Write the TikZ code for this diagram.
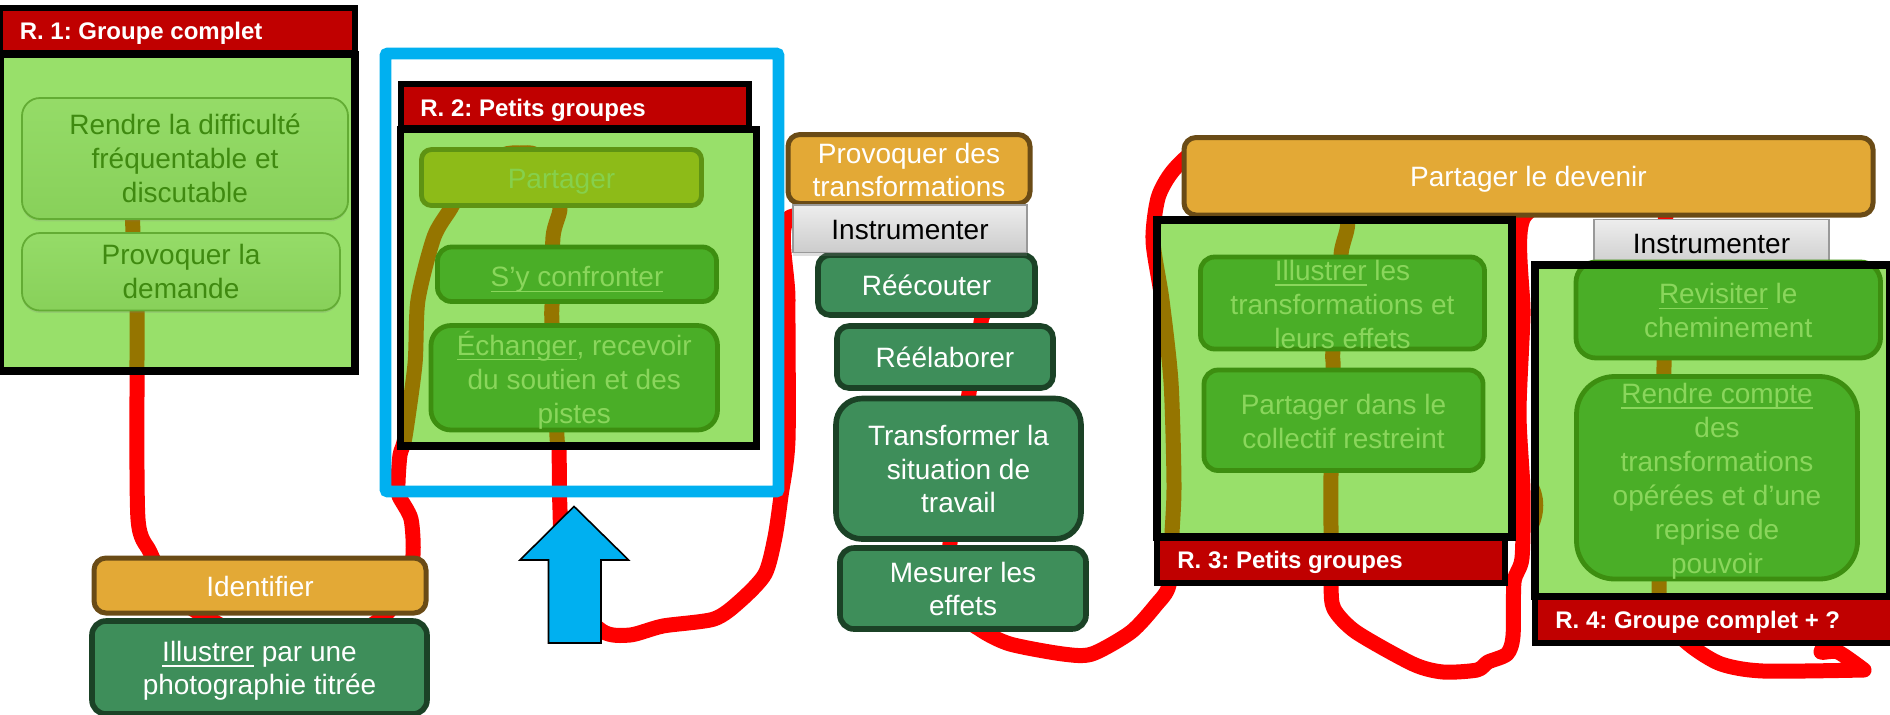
\documentclass[tikz,border=0pt]{standalone}
\usepackage{fontspec}
\setmainfont{Liberation Sans}
\usetikzlibrary{shadows}
\definecolor{cbody}{HTML}{98E06A}
\definecolor{chead}{HTML}{C00000}
\definecolor{cred}{HTML}{FF0000}
\definecolor{cbrown}{HTML}{957500}
\definecolor{cblue}{HTML}{00B0F0}
\definecolor{corange}{HTML}{E3A936}
\definecolor{corangeb}{HTML}{6A4B16}
\definecolor{cteal}{HTML}{3E8E5A}
\definecolor{ctealb}{HTML}{1B4226}
\definecolor{cmid}{HTML}{4AAE27}
\definecolor{cmidb}{HTML}{3D8E10}
\definecolor{cmidt}{HTML}{8AD65C}
\definecolor{colive}{HTML}{8DBB18}
\definecolor{coliveb}{HTML}{5E9313}
\definecolor{colivet}{HTML}{86D04C}
\definecolor{csoft}{HTML}{3F8A10}
\newcommand\ulbar[1]{\setbox0\hbox{#1}\rlap{\rule[-2.6pt]{\wd0}{0.6pt}}\box0\relax}
\newcommand\topH{14pt}
\newcommand\bx[7]{\pgfmathsetmacro\wdd{(#5-#3)*0.5}\pgfmathsetmacro\htt{(#6-#4)*0.5}\node[#2,minimum width=\wdd pt,minimum height=\htt pt,inner xsep=0pt,inner ysep=-12pt,outer sep=0pt,execute at begin node={\frenchspacing}] (#1) at ({(#3+#5)/2},{(#4+#6)/2}) {\rule{0pt}{\topH}#7\rule[-4pt]{0pt}{4pt}};}
\newcommand\flow{%
 plot[smooth,tension=0.45] coordinates {(132,190)(133,233)(137,310)(137,375)(138,519)(150,552)(170,590)(206,617)(300,660)(383,617)(405,580)(413,555)(411,519)(399,496)(398,483)(400,455)(405,437)(415,364)(418,300)(434,237)(451,208)(470,175)(503,155)(520,153)(536,155)(552,180)(560,208)(553,237)(552,305)(552,323)(557,437)(559,449)(560,510)(565,590)(602,631)(630,635)(663,626)(714,619)(740,601)(765,574)(775,537)(781,496)(788,440)(788,300)(790,217)(900,240)(981,300)(981,322)(969,393)(950,543)(960,610)(981,630)(1010,644)(1063,654)(1092,654)(1131,632)(1156,605)(1169,585)(1172,533)(1174,484)(1171,382)(1162,300)(1153,241)(1158,198)(1172,172)(1195,152)(1225,160)(1341,210)(1341,255)(1333,350)(1333,368)(1331,474)(1331,533)(1331,585)(1334,609)(1356,632)(1413,664)(1443,672)(1477,670)(1488,662)(1507,654)(1513,636)(1514,582)(1522,558)(1523,491)(1519,413)(1523,315)(1524,217)(1600,190)(1665,210)(1665,225)(1664,366)(1659,589)(1665,620)(1691,646)(1721,664)(1763,671)(1864,670)}
 plot[smooth,tension=0.45] coordinates {(1864,670)(1838,652)(1821,652)(1830,640)}}
\tikzset{
 toph/.code={\def\topH{#1}},
 flowline/.style={line width=7.5pt,line cap=round,line join=round},
 frame/.style={draw=black,line width=3.8pt,line join=miter},
 bodybox/.style={fill=cbody},
 headbox/.style={draw=black,fill=chead,line width=3pt},
 headtext/.style={text=white,font=\fontsize{12}{14}\selectfont\bfseries\frenchspacing,anchor=west,inner sep=0pt},
 softbox/.style={draw=csoft!60!cbody,line width=0.9pt,top color=cbody!98!black,bottom color=cbody!82!csoft,rounded corners=9pt,text=csoft,align=center,font=\fontsize{14}{17}\selectfont,drop shadow={opacity=.2,shadow xshift=0pt,shadow yshift=-1.2pt}},
 midbox/.style={draw=cmidb,line width=2.4pt,fill=cmid,text=cmidt,rounded corners=#1,align=center,font=\fontsize{14}{17}\selectfont},
 midbox/.default=7pt,
 olivebox/.style={draw=coliveb,line width=2.4pt,fill=colive,text=colivet,rounded corners=5pt,align=center,font=\fontsize{14}{17}\selectfont},
 orangebox/.style={draw=corangeb,line width=2.5pt,fill=corange,text=white,rounded corners=6pt,align=center,font=\fontsize{14}{16.5}\selectfont},
 tealbox/.style={draw=ctealb,line width=2.8pt,fill=cteal,text=white,rounded corners=#1,align=center,font=\fontsize{14}{16.8}\selectfont},
 tealbox/.default=6pt,
 toolbox/.style={draw=black!40,line width=0.7pt,top color=white!93!black,bottom color=black!20,text=black,font=\fontsize{14}{16}\selectfont,drop shadow={opacity=.25,shadow xshift=0pt,shadow yshift=-1.5pt}},
 bluebox/.style={draw=cblue,line width=5.8pt,rounded corners=1pt},
}
\begin{document}
\begin{tikzpicture}[x=0.5pt,y=-0.5pt]
\useasboundingbox (0,0) rectangle (1890,714);
\fill[white] (0,0) rectangle (1890,714);
% the red line, under everything
\draw[flowline,cred] \flow;
\bx{blue}{bluebox}{385.5}{53.5}{778.5}{491.5}{}
% round 1
\bx{h1}{headbox}{0}{8}{355}{53}{}
\node[headtext] (t1) at (19.4,33) {R. 1: Groupe complet};
\bx{b1}{bodybox}{0}{54.5}{355}{371}{}
\begin{scope}\clip (b1.south west) rectangle (b1.north east);\draw[flowline,cbrown] \flow;\end{scope}
\bx{a1}{softbox,toph=14pt}{22}{98}{348}{219}{Rendre la difficulté\\fréquentable et\\discutable}
\bx{a2}{softbox,toph=14pt}{22}{233}{340}{310.5}{Provoquer la\\demande}
\draw[frame] (b1.south west) rectangle (b1.north east);
% round 2
\bx{h2}{headbox}{400.5}{84}{748.5}{128}{}
\node[headtext] (t2) at (420,110) {R. 2: Petits groupes};
\bx{b2}{bodybox}{400.5}{129.5}{756.5}{446}{}
\begin{scope}\clip (b2.south west) rectangle (b2.north east);\draw[flowline,cbrown] \flow;\end{scope}
\bx{p1}{olivebox,toph=15.2pt}{421.5}{149.5}{701.5}{205.5}{Partager}
\bx{p2}{midbox,toph=16.4pt}{437.5}{247}{716.5}{301.5}{\ulbar{S’y confronter}}
\bx{p3}{midbox=10pt,toph=15.4pt}{431}{325.5}{717.5}{430}{\ulbar{Échanger}, recevoir\\du soutien et des\\pistes}
\draw[frame] (b2.south west) rectangle (b2.north east);
% arrow
\draw[fill=cblue,draw=black,line width=0.8pt,line join=miter] (574,506.4) coordinate (tip) -- (628.6,560) -- (601,560) -- (601,643) -- (548.5,643) -- (548.5,560) -- (520,560) -- cycle;
% identify
\bx{id}{orangebox,toph=15.2pt}{94}{558}{426}{613}{Identifier}
\bx{il}{tealbox=7pt,toph=14.6pt}{92}{621}{427}{714}{\ulbar{Illustrer} par une\\photographie titrée}
% transform column
\bx{pv}{orangebox,toph=14.8pt}{788}{134.5}{1030}{203.5}{Provoquer des\\transformations}
\bx{re}{tealbox}{818}{255}{1035}{315}{Réécouter}
\bx{ins1}{toolbox,toph=15pt}{793}{205}{1027}{252.7}{Instrumenter}
\bx{rl}{tealbox}{837}{326}{1053}{388}{Réélaborer}
\bx{tr}{tealbox=13pt,toph=14.4pt}{836}{398.5}{1081}{539}{Transformer la\\situation de\\travail}
\bx{me}{tealbox=7pt,toph=14.5pt}{840}{548}{1086}{629}{Mesurer les\\effets}
% round 3
\bx{de}{orangebox}{1184}{137.5}{1873}{215}{Partager le devenir}
\bx{h3}{headbox}{1156.5}{537}{1505}{582.5}{}
\node[headtext] (t3) at (1177,562) {R. 3: Petits groupes};
\bx{b3}{bodybox}{1157}{220}{1512}{537}{}
\begin{scope}\clip (b3.south west) rectangle (b3.north east);\draw[flowline,cbrown] \flow;\end{scope}
\bx{c1}{midbox,toph=15.3pt}{1200.5}{257}{1484.5}{349}{\ulbar{Illustrer} les\\transformations et\\leurs effets}
\bx{c2}{midbox,toph=15.2pt}{1204}{370}{1483}{470.5}{Partager dans le\\collectif restreint}
\draw[frame] (b3.south west) rectangle (b3.north east);
% round 4
\bx{ins2}{toolbox}{1594}{219.4}{1829}{268}{Instrumenter}
\bx{h4}{headbox}{1535}{597}{1895}{643}{}
\node[headtext] (t4) at (1555,622.7) {R. 4: Groupe complet + ?};
\bx{b4}{bodybox}{1535}{265}{1890}{596.5}{}
\begin{scope}\clip (b4.south west) rectangle (b4.north east);\draw[flowline,cbrown] \flow;
 \fill[cbrown] (1535,478) .. controls (1546,495) and (1546,515) .. (1535,535) -- cycle;\end{scope}
\bx{d1}{midbox=10pt,toph=14.6pt}{1576}{262}{1880.5}{358}{\ulbar{Revisiter} le\\cheminement}
\bx{d2}{midbox=19pt,toph=14.6pt}{1576.5}{376.5}{1857.5}{579}{\ulbar{Rendre compte}\\des\\transformations\\opérées et d’une\\reprise de\\pouvoir}
\draw[frame] (b4.south west) rectangle (b4.north east);
\end{tikzpicture}
\end{document}
